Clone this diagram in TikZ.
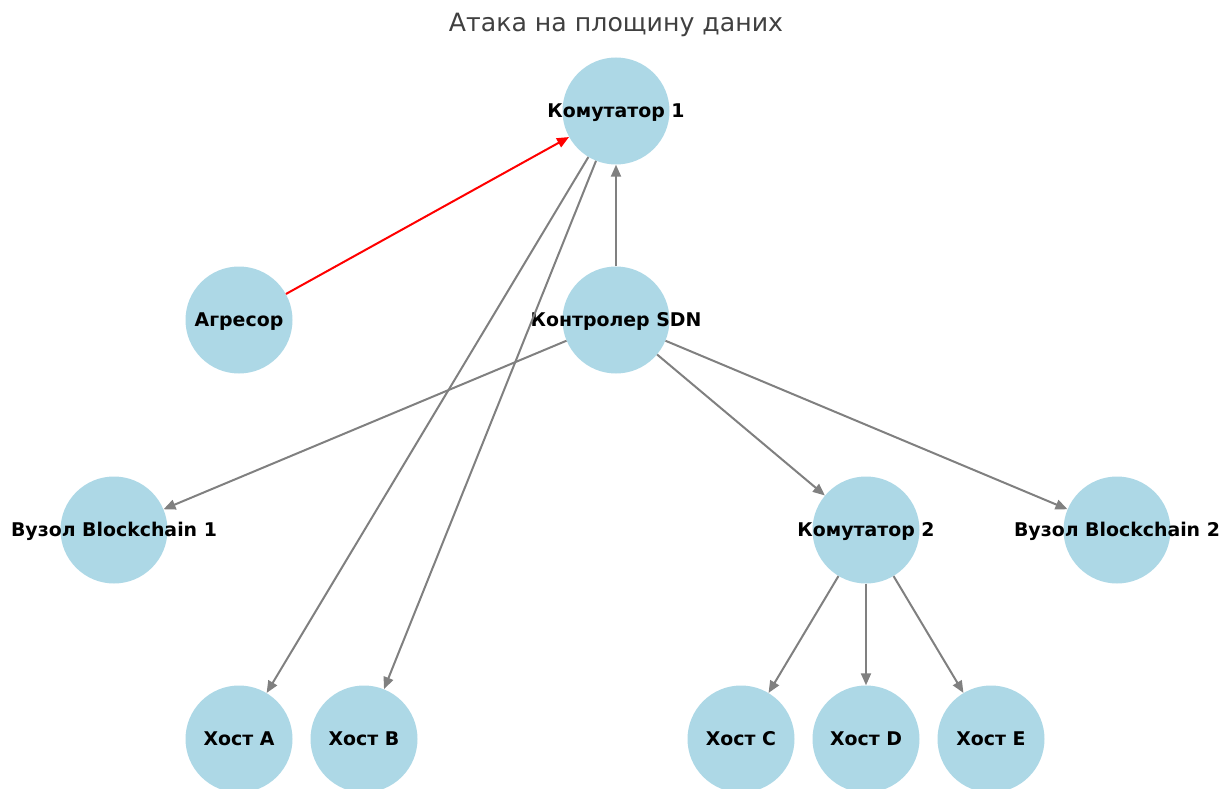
\documentclass[tikz,border=0pt]{standalone}
\usepackage{fontspec}
\setmainfont{DejaVu Sans}
\usetikzlibrary{arrows.meta}
\definecolor{nodefill}{HTML}{ADD8E6}
\definecolor{edgegray}{HTML}{808080}
\definecolor{titlegray}{HTML}{404040}
\tikzset{
  netnode/.style={circle, fill=nodefill, draw=none, minimum size=107pt, inner sep=0pt},
  netlabel/.style={font=\fontsize{18.9}{22}\selectfont\bfseries, text=black, inner sep=0pt,
    text height=13.8pt, text depth=0pt},
  edge/.style={draw=edgegray, line width=2pt, -{Triangle[length=12pt, width=10pt]}},
  attack/.style={edge, draw=red, fill=red},
}
\begin{document}
\begin{tikzpicture}[x=1pt, y=-1pt]
  \useasboundingbox (0,0) rectangle (1224,789);

  \node[font=\fontsize{25.2}{30}\selectfont, text=titlegray] (title) at (616,25) {Атака на площину даних};

  % network nodes
  \node[netnode, label={[netlabel]center:Комутатор 1}] (sw1) at (616,111) {};
  \node[netnode, label={[netlabel]center:Агресор}] (agg) at (239,320) {};
  \node[netnode, label={[netlabel]center:Контролер SDN}] (ctrl) at (616,320) {};
  \node[netnode, label={[netlabel]center:Вузол Blockchain 1}] (bc1) at (114,530) {};
  \node[netnode, label={[netlabel]center:Комутатор 2}] (sw2) at (866,530) {};
  \node[netnode, label={[netlabel]center:Вузол Blockchain 2}] (bc2) at (1117,530) {};
  \node[netnode, label={[netlabel]center:Хост A}] (ha) at (239,739) {};
  \node[netnode, label={[netlabel]center:Хост B}] (hb) at (364,739) {};
  \node[netnode, label={[netlabel]center:Хост C}] (hc) at (741,739) {};
  \node[netnode, label={[netlabel]center:Хост D}] (hd) at (866,739) {};
  \node[netnode, label={[netlabel]center:Хост E}] (he) at (991,739) {};

  % links
  \draw[edge] (ctrl) -- (sw1);
  \draw[edge] (ctrl) -- (bc1);
  \draw[edge] (ctrl) -- (sw2);
  \draw[edge] (ctrl) -- (bc2);
  \draw[edge] (sw1) -- (ha);
  \draw[edge] (sw1) -- (hb);
  \draw[edge] (sw2) -- (hc);
  \draw[edge] (sw2) -- (hd);
  \draw[edge] (sw2) -- (he);
  \draw[attack] (agg) -- (sw1);
\end{tikzpicture}
\end{document}
